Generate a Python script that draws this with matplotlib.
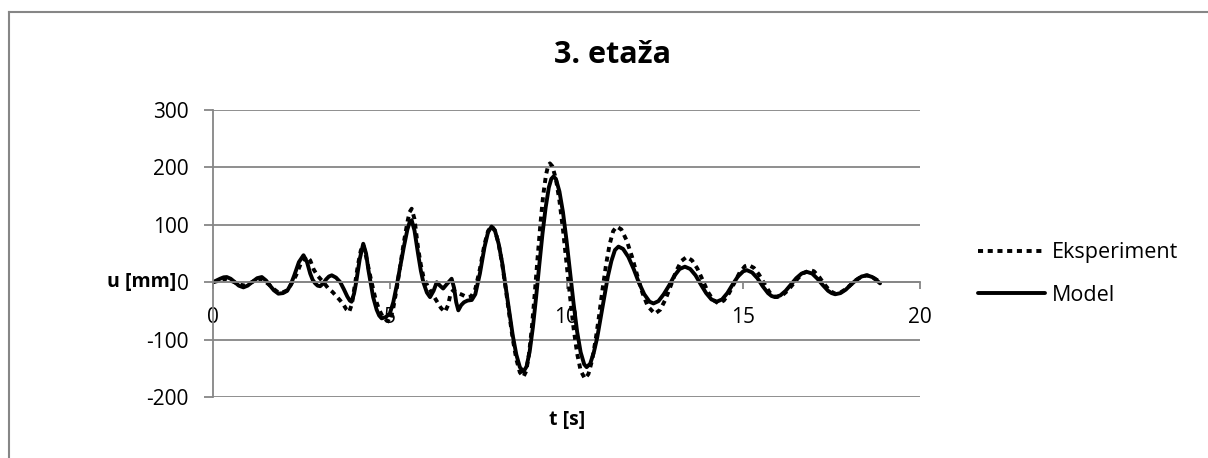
import numpy as np
import matplotlib.pyplot as plt
from matplotlib.lines import Line2D

# podaci ocitani sa grafika: vrijeme [s] i pomak [mm]
t_eks = [0, 0.2, 0.39, 0.6, 0.75, 0.9, 1.1, 1.25, 1.38, 1.6, 1.72, 1.85, 2.0, 2.1,
         2.2, 2.35, 2.5, 2.65, 2.75, 2.85, 2.95, 3.05, 3.15, 3.25, 3.38, 3.5, 3.6,
         3.7, 3.78, 3.85, 3.93, 4.0, 4.1, 4.18, 4.25, 4.33, 4.45, 4.53, 4.6, 4.7,
         4.8, 4.9, 5.0, 5.1, 5.2, 5.3, 5.4, 5.5, 5.56, 5.62, 5.7, 5.8, 5.88, 5.95,
         6.08, 6.2, 6.35, 6.45, 6.56, 6.65, 6.72, 6.8, 6.9, 7.05, 7.18, 7.3,
         7.42, 7.55, 7.68, 7.78, 7.88, 7.98, 8.08, 8.18, 8.28, 8.38, 8.48, 8.58,
         8.68, 8.78, 8.86, 8.94, 9.02, 9.1, 9.18, 9.26, 9.34, 9.42, 9.48, 9.53,
         9.6, 9.7, 9.8, 9.9, 10.0, 10.1, 10.2, 10.3, 10.4, 10.52, 10.62, 10.72,
         10.82, 10.92, 11.02, 11.12, 11.22, 11.32, 11.42, 11.55, 11.7, 11.85,
         12.0, 12.15, 12.3, 12.5, 12.65, 12.8, 12.95, 13.1, 13.25, 13.4, 13.55,
         13.7, 13.85, 14.0, 14.15, 14.3, 14.45, 14.6, 14.75, 14.9, 15.05, 15.15,
         15.3, 15.45, 15.6, 15.75, 15.85, 15.95, 16.1, 16.25, 16.4, 16.55, 16.7,
         16.9, 17.0, 17.15, 17.3, 17.45, 17.6, 17.75, 17.9, 18.05, 18.2, 18.35,
         18.5, 18.65, 18.78, 18.87]
u_eks = [0, 3, 6, 0, -4, -6, 0, 5, 6, -5, -12, -18, -17, -14,
         -5, 12, 35, 45, 38, 22, 12, 5, -2, -10, -17, -25, -32,
         -40, -48, -52, -38, -10, 30, 55, 65, 45, 10, -12, -30, -48,
         -60, -66, -69, -45, -10, 30, 70, 105, 122, 128, 110, 60, 30, 10,
         -8, -20, -35, -45, -52, -40, -20, -14, -18, -22, -26, -25,
         -12, 23, 66, 89, 98, 90, 67, 32, -11, -56, -99, -134,
         -157, -165, -155, -125, -79, -21, 41, 100, 151, 187, 203, 207,
         202, 180, 142, 92, 34, -25, -80, -124, -154, -168, -160, -137,
         -102, -59, -12, 31, 66, 89, 97, 92, 73, 45,
         12, -19, -42, -55, -48, -30, -6, 19, 37, 44, 38,
         24, 4, -17, -31, -37, -32, -19, -1, 17, 28, 30,
         25, 13, -3, -18, -24, -26, -23, -15, -4, 7, 16,
         21, 19, 9, -4, -15, -20, -18, -12, -4, 4, 10,
         12, 9, 4, 0]

t_mod = [0, 0.1, 0.2, 0.3, 0.39, 0.5, 0.6, 0.73, 0.86, 0.98, 1.1, 1.25, 1.38, 1.5,
         1.6, 1.72, 1.85, 1.98, 2.1, 2.2, 2.3, 2.43, 2.56, 2.66, 2.75, 2.82, 2.89,
         2.96, 3.03, 3.12, 3.2, 3.28, 3.36, 3.48, 3.6, 3.7, 3.8, 3.87, 3.92, 3.99,
         4.05, 4.15, 4.25, 4.33, 4.4, 4.47, 4.53, 4.63, 4.7, 4.77, 4.88, 5.0, 5.1,
         5.2, 5.3, 5.4, 5.5, 5.56, 5.62, 5.7, 5.8, 5.88, 5.95, 6.05, 6.14, 6.24,
         6.33, 6.42, 6.51, 6.62, 6.75, 6.82, 6.88, 6.94, 7.02, 7.1, 7.2, 7.32,
         7.42, 7.55, 7.68, 7.78, 7.88, 7.98, 8.08, 8.18, 8.28, 8.38, 8.48, 8.58,
         8.68, 8.78, 8.87, 8.96, 9.05, 9.14, 9.23, 9.32, 9.41, 9.5, 9.57, 9.63,
         9.7, 9.8, 9.9, 10.0, 10.1, 10.2, 10.3, 10.4, 10.5, 10.57, 10.67, 10.77,
         10.87, 10.97, 11.07, 11.17, 11.27, 11.37, 11.47, 11.6, 11.75, 11.9,
         12.05, 12.2, 12.35, 12.46, 12.6, 12.75, 12.9, 13.05, 13.2, 13.35, 13.5,
         13.65, 13.8, 13.95, 14.1, 14.25, 14.4, 14.55, 14.7, 14.85, 15.0, 15.1,
         15.25, 15.4, 15.55, 15.7, 15.8, 15.9, 16.05, 16.2, 16.35, 16.5, 16.65,
         16.8, 16.95, 17.1, 17.25, 17.4, 17.5, 17.6, 17.75, 17.9, 18.05, 18.2,
         18.35, 18.5, 18.65, 18.78, 18.87]
u_mod = [0, 3, 6, 8.5, 9, 6, 1, -6, -9, -6, 0, 7, 9, 3,
         -5, -14, -20, -19, -15, -4, 12, 35, 47, 35, 15, 4, -2,
         -6, -7, -2, 5, 10, 12, 8, 0, -12, -25, -32, -34, -20,
         0, 40, 67, 50, 20, -5, -26, -48, -58, -63, -61, -55, -35,
         -5, 28, 62, 92, 104, 108, 90, 50, 20, 0, -18, -26, -15,
         0, -6, -11, -3, 6, -10, -35, -49, -40, -35, -32, -31,
         -21, 15, 61, 87, 97, 89, 67, 34, -8, -51, -93, -126,
         -148, -156, -147, -120, -78, -26, 30, 84, 130, 165, 180, 184,
         180, 158, 122, 73, 18, -37, -86, -122, -143, -148, -142, -123,
         -96, -61, -25, 10, 37, 56, 62, 58, 44, 23,
         -1, -21, -34, -37, -33, -21, -6, 11, 23, 27, 23,
         12, -4, -19, -30, -34, -30, -19, -4, 10, 19, 21,
         17, 7, -7, -19, -24, -26, -23, -15, -4, 7, 15,
         18, 15, 6, -5, -15, -19, -21, -19, -13, -4, 4,
         10, 12, 9, 3, -2]

x_ticks = [0, 5, 10, 15, 20]
y_ticks = [-200, -100, 0, 100, 200, 300]

plt.rcParams['font.family'] = ['Open Sans', 'DejaVu Sans']
plt.rcParams['axes.unicode_minus'] = False
siva = '#868686'

fig = plt.figure(figsize=(12.08, 4.58), dpi=100)
ax = fig.add_axes([213/1208, 1 - 397/458, (920 - 213)/1208, (397 - 110)/458])

ax.plot(t_eks, u_eks, color='black', lw=2.8, linestyle=(0, (1.3, 1.2)),
        dash_capstyle='butt', label='Eksperiment')
ax.plot(t_mod, u_mod, color='black', lw=2.8, solid_capstyle='round',
        solid_joinstyle='round', label='Model')

ax.set_xlim(0, 20)
ax.set_ylim(-200, 300)
ax.set_xticks(x_ticks)
ax.set_yticks(y_ticks)
ax.grid(axis='y', color=siva, lw=1.3)
ax.set_axisbelow(True)

ax.spines['top'].set_visible(False)
ax.spines['right'].set_visible(False)
ax.spines['bottom'].set_position(('data', 0))
for s in ['left', 'bottom']:
    ax.spines[s].set_color(siva)
    ax.spines[s].set_linewidth(1.3)
ax.tick_params(axis='y', direction='out', length=6.5, width=1.3, color=siva,
               pad=11, labelsize=15)
ax.tick_params(axis='x', direction='out', length=5, width=1.3, color=siva,
               pad=13, labelsize=15)

fig.text(612/1208, 1 - 55/458, '3. etaža', fontsize=22, fontweight='bold',
         ha='center', va='center')
fig.text(142/1208, 1 - 282/458, 'u [mm]', fontsize=14, fontweight='bold',
         ha='center', va='center')
fig.text(567/1208, 1 - 420/458, 't [s]', fontsize=14, fontweight='bold',
         ha='center', va='center')

ax.legend(loc='center left', bbox_to_anchor=(978/1208, 1 - 274/458),
          bbox_transform=fig.transFigure, frameon=False, fontsize=15.5,
          handlelength=3.1, handletextpad=0.35, labelspacing=1.0,
          borderpad=0, borderaxespad=0)

# okvir grafikona
fig.add_artist(Line2D([9/1208, 9/1208], [0, 1 - 12/458], color=siva, lw=1.5))
fig.add_artist(Line2D([9/1208, 1], [1 - 12/458, 1 - 12/458], color=siva, lw=1.5))

fig.savefig('out.png', dpi=100)
